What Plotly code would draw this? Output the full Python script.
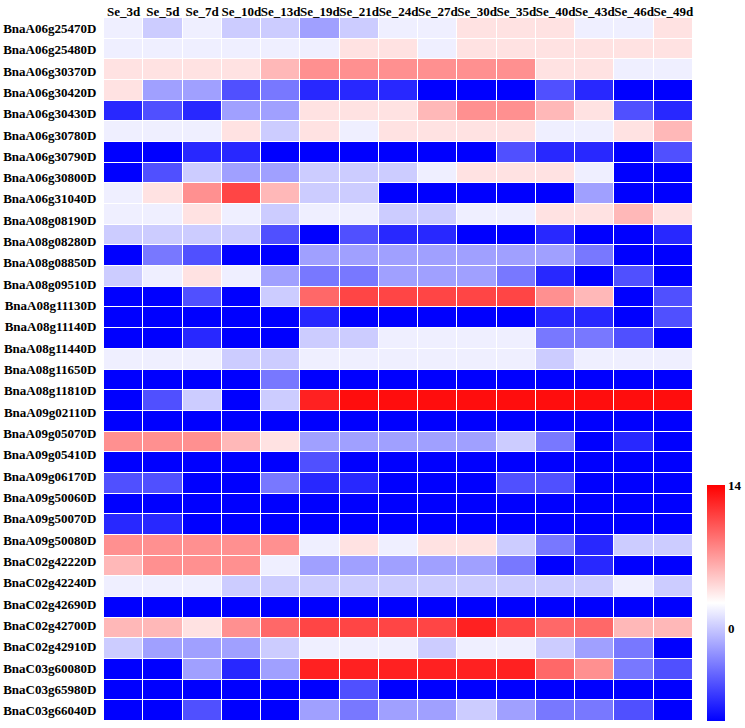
import plotly.graph_objects as go

timepoints = ["Se_3d", "Se_5d", "Se_7d", "Se_10d", "Se_13d", "Se_19d", "Se_21d", "Se_24d",
              "Se_27d", "Se_30d", "Se_35d", "Se_40d", "Se_43d", "Se_46d", "Se_49d"]

genes = ["BnaA06g25470D", "BnaA06g25480D", "BnaA06g30370D", "BnaA06g30420D", "BnaA06g30430D",
         "BnaA06g30780D", "BnaA06g30790D", "BnaA06g30800D", "BnaA06g31040D", "BnaA08g08190D",
         "BnaA08g08280D", "BnaA08g08850D", "BnaA08g09510D", "BnaA08g11130D", "BnaA08g11140D",
         "BnaA08g11440D", "BnaA08g11650D", "BnaA08g11810D", "BnaA09g02110D", "BnaA09g05070D",
         "BnaA09g05410D", "BnaA09g06170D", "BnaA09g50060D", "BnaA09g50070D", "BnaA09g50080D",
         "BnaC02g42220D", "BnaC02g42240D", "BnaC02g42690D", "BnaC02g42700D", "BnaC02g42910D",
         "BnaC03g60080D", "BnaC03g65980D", "BnaC03g66040D"]

row_values = [
    [1.8, 0.2, 1.8, 0.2, 0.2, -1.8, 0.2, 1.8, 1.8, 3.8, 3.8, 3.8, 1.8, 1.8, 3.8],
    [1.8, 1.8, 1.8, 1.8, 1.8, 1.8, 3.8, 3.8, 1.8, 3.8, 3.8, 3.8, 3.8, 3.8, 3.8],
    [3.8, 3.8, 3.8, 3.8, 5.7, 7.5, 7.5, 7.5, 7.5, 7.5, 7.5, 3.8, 3.8, 1.8, 1.8],
    [3.8, -1.8, -1.8, -5.4, -3.6, -7.2, -7.2, -7.2, -9, -9, -9, -5.4, -7.2, -9, -9],
    [-7.2, -5.4, -7.2, -1.8, -1.8, 3.8, 3.8, 3.8, 5.7, 7.5, 7.5, 5.7, 3.8, -5.4, -7.2],
    [1.8, 1.8, 1.8, 3.8, 0.2, 3.8, 1.8, 3.8, 3.8, 3.8, 3.8, 1.8, 1.8, 3.8, 5.7],
    [-9, -9, -7.2, -7.2, -9, -9, -9, -9, -9, -9, -5.4, -7.2, -7.2, -9, -5.4],
    [-9, -5.4, 0.2, -1.8, -1.8, 0.2, 0.2, 0.2, 1.8, 3.8, 3.8, 3.8, 1.8, -9, -9],
    [1.8, 3.8, 7.5, 10.9, 5.7, 0.2, 0.2, -9, -9, -9, -9, -9, -1.8, -9, -9],
    [1.8, 1.8, 3.8, 1.8, 0.2, 1.8, 1.8, 0.2, 0.2, 1.8, 1.8, 3.8, 3.8, 5.7, 3.8],
    [0.2, 0.2, 0.2, 0.2, -5.4, -9, -5.4, -7.2, -7.2, -9, -9, -7.2, -9, -9, -7.2],
    [-9, -3.6, -5.4, -9, -9, -1.8, -1.8, -1.8, -1.8, -1.8, -1.8, -1.8, -3.6, -9, -9],
    [0.2, 1.8, 3.8, 1.8, -1.8, -3.6, -3.6, -1.8, -1.8, -1.8, -3.6, -7.2, -9, -5.4, -9],
    [-9, -9, -5.4, -9, 0.2, 9.3, 10.9, 10.9, 10.9, 10.9, 10.9, 7.5, 5.7, -9, -5.4],
    [-9, -9, -9, -9, -9, -7.2, -9, -9, -9, -9, -9, -7.2, -7.2, -9, -5.4],
    [-9, -9, -7.2, -9, -9, 0.2, 0.2, 1.8, 1.8, 1.8, 1.8, -3.6, -3.6, -5.4, -9],
    [1.8, 1.8, 1.8, 0.2, 0.2, 1.8, 1.8, 1.8, 1.8, 1.8, 1.8, 0.2, 1.8, 1.8, 1.8],
    [-9, -9, -9, -9, -3.6, -9, -9, -9, -9, -9, -9, -9, -9, -9, -9],
    [-9, -5.4, 0.2, -9, 0.2, 12.5, 13.4, 13.4, 13.4, 13.4, 13.4, 13.4, 13.4, 13.4, 13.4],
    [-9, -9, -9, -9, -9, -9, -9, -9, -9, -9, -9, -9, -9, -9, -9],
    [7.5, 7.5, 7.5, 5.7, 3.8, -1.8, -1.8, -1.8, -1.8, -1.8, 0.2, -3.6, -9, -7.2, -9],
    [-9, -9, -9, -9, -9, -5.4, -9, -9, -9, -9, -9, -9, -9, -9, -9],
    [-5.4, -5.4, -9, -9, -3.6, -7.2, -7.2, -9, -9, -9, -5.4, -5.4, -9, -9, -9],
    [-9, -9, -9, -9, -9, -9, -9, -9, -9, -9, -9, -9, -9, -9, -9],
    [-7.2, -7.2, -9, -9, -9, -9, -9, -9, -9, -9, -9, -9, -9, -9, -9],
    [7.5, 7.5, 7.5, 7.5, 7.5, 1.8, 3.8, 1.8, 3.8, 3.8, 0.2, -3.6, -7.2, 0.2, 0.2],
    [5.7, 7.5, 7.5, 7.5, 1.8, -1.8, -1.8, -1.8, -1.8, -1.8, -3.6, -9, -7.2, -9, -9],
    [1.8, 1.8, 1.8, 0.2, 0.2, 0.2, 0.2, 0.2, 0.2, 0.2, 0.2, 0.2, 0.2, 1.8, 0.2],
    [-9, -9, -9, -9, -9, -9, -9, -9, -9, -9, -9, -9, -9, -9, -9],
    [5.7, 5.7, 3.8, 7.5, 9.3, 10.9, 10.9, 10.9, 10.9, 12.5, 10.9, 9.3, 9.3, 5.7, 5.7],
    [0.2, -1.8, -1.8, -1.8, 0.2, 1.8, 1.8, 1.8, 0.2, 1.8, 1.8, 0.2, -1.8, -3.6, -9],
    [-9, -9, -1.8, -7.2, -1.8, 12.5, 12.5, 12.5, 12.5, 12.5, 12.5, 9.3, 7.5, -3.6, -5.4],
    [-9, -9, -9, -9, -9, -9, -5.4, -9, -9, -9, -9, -9, -9, -9, -9],
    [-9, -9, -5.4, -9, -9, -1.8, -3.6, -1.8, -1.8, 0.2, -1.8, -3.6, -3.6, -5.4, -9],
]

colorbar_ticks = [-9, 0, 14]

n_rows = len(row_values)
row_idx = list(range(n_rows))
label_pos = [i * (n_rows - 1) / (len(genes) - 1) for i in range(len(genes))]

font_family = "Liberation Serif, Times New Roman, serif"

fig = go.Figure(go.Heatmap(
    z=row_values,
    x=timepoints,
    y=row_idx,
    zmin=-9, zmax=14,
    colorscale=[[0, "#0000FF"], [0.5, "#FFFFFF"], [1, "#FF0000"]],
    xgap=1, ygap=1,
    colorbar=dict(
        tickvals=colorbar_ticks,
        ticktext=[str(t) for t in colorbar_ticks],
        tickfont=dict(family=font_family, size=13, color="black", weight="bold"),
        thickness=18,
        len=0.336, lenmode="fraction",
        y=0, yanchor="bottom",
        x=1.0238, xanchor="left", xpad=0, ypad=0,
        outlinewidth=0,
        ticks="", ticklen=0,
    ),
))

fig.update_layout(
    width=745, height=728,
    margin=dict(l=104, r=52, t=18, b=7, autoexpand=False),
    paper_bgcolor="white",
    plot_bgcolor="white",
    showlegend=False,
)
fig.update_xaxes(
    side="top", showgrid=False, zeroline=False, showline=False, automargin=False,
    tickangle=0,
    ticks="", ticklen=0, ticklabelstandoff=-2,
    tickfont=dict(family=font_family, size=13, color="black", weight="bold"),
)
fig.update_yaxes(
    autorange="reversed", showgrid=False, zeroline=False, showline=False, automargin=False,
    tickvals=label_pos, ticktext=genes,
    ticks="outside", ticklen=4, tickcolor="rgba(0,0,0,0)",
    tickfont=dict(family=font_family, size=13, color="black", weight="bold"),
)

# remove the browser's default page margin so the figure fills the window
fig.write_html("out.html", config={"displayModeBar": False},
               post_script="document.body.style.margin='0';")
